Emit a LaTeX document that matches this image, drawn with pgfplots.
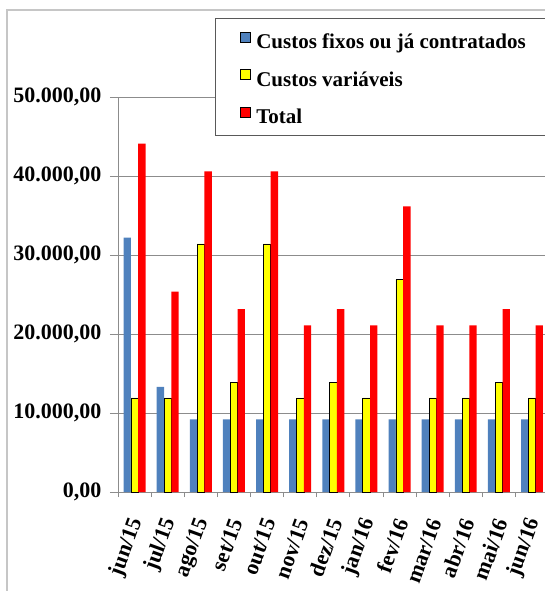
\documentclass[border=0pt]{standalone}
\usepackage{pgfplots}
\usepackage{pgfplotstable}
\pgfplotsset{compat=1.18}
\usepackage{fontspec}
\setmainfont{Liberation Serif}
\definecolor{cblue}{HTML}{4F81BD}
\definecolor{cyel}{HTML}{FFFF00}
\definecolor{cred}{HTML}{FF0000}
\definecolor{gridc}{HTML}{8C8C8C}
\pgfplotstableread{
x fixos var total
0 32200 11900 44100
1 13300 11900 25350
2 9200 31400 40600
3 9200 13900 23150
4 9200 31400 40600
5 9200 11900 21100
6 9200 13900 23150
7 9200 11900 21100
8 9200 26900 36150
9 9200 11900 21100
10 9200 11900 21100
11 9200 13900 23150
12 9200 11900 21100
}\data
\pgfplotsset{sqleg/.style={legend image code/.code={\draw[##1] (0pt,0pt) rectangle (10pt,10pt);}}}
\newcommand{\lstrut}{\rule[-4pt]{0pt}{17pt}}
\begin{document}
\begin{tikzpicture}[x=1pt,y=1pt]
\draw[gray!45, line width=1.5pt] (7,-700) -- (7,-10) -- (700,-10);
\begin{axis}[
  at={(118pt,-492pt)}, anchor=south west,
  scale only axis, width=430.6pt, height=395pt,
  xmin=-0.5, xmax=12.5, ymin=0, ymax=50000,
  ybar=0pt, bar width=7.3pt,
  clip=false,
  scaled y ticks=false,
  axis x line*=bottom, axis y line*=left,
  axis line style={gridc, -, line width=0.8pt},
  ymajorgrids, grid style={gridc, line width=0.8pt},
  tick align=outside,
  xtick={0,...,12},
  xticklabels={jun/15,jul/15,ago/15,set/15,out/15,nov/15,dez/15,jan/16,fev/16,mar/16,abr/16,mai/16,jun/16},
  major x tick style={draw=none},
  minor xtick={-0.5,0.5,...,12.5},
  minor tick length=5pt,
  minor tick style={gridc, line width=0.8pt},
  ytick={0,10000,20000,30000,40000,50000},
  yticklabels={{0,00},{10.000,00},{20.000,00},{30.000,00},{40.000,00},{50.000,00}},
  major tick length=8pt,
  major tick style={gridc, line width=0.8pt},
  ticklabel style={font=\fontsize{22}{22}\selectfont\bfseries, /pgf/number format/assume math mode=true},
  yticklabel style={xshift=-5pt},
  xticklabel style={rotate=70, anchor=east, xshift=-13.6pt, yshift=-9.1pt},
  legend style={at={(axis description cs:0.2833,1.1655)}, anchor=north west, draw=none, fill=none,
    inner sep=0pt, row sep=17.3pt, column sep=3.5pt,
    font=\fontsize{21}{21}\selectfont\bfseries,
    cells={anchor=west, inner sep=0pt}},
]
\addplot[fill=cblue, draw=none, sqleg] table[x=x,y=fixos]{\data};
\addplot[fill=cyel, draw=black, line width=0.6pt, sqleg] table[x=x,y=var]{\data};
\addplot[fill=cred, draw=none, sqleg] table[x=x,y=total]{\data};
\draw[fill=white, draw=black!65, line width=1pt] (axis description cs:0.2253,1.1975) rectangle (axis description cs:1.1,0.9013);
\legend{\lstrut Custos fixos ou já contratados, \lstrut Custos variáveis, \lstrut Total}
\end{axis}
\pgfresetboundingbox
\path (0,0) rectangle (545,-591);
\end{tikzpicture}
\end{document}
